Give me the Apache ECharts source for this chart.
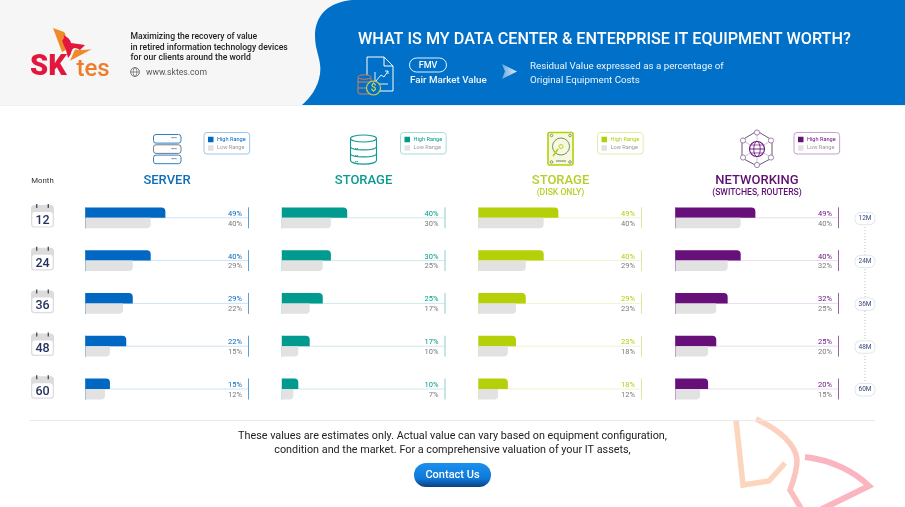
<!DOCTYPE html>
<html><head><meta charset="utf-8">
<style>html,body{margin:0;padding:0;background:#fff}#c{width:905px;height:507px}</style>
<script src="https://cdn.jsdelivr.net/npm/echarts@6/dist/echarts.min.js"></script>
</head><body><div id="c"></div>
<script>
const months = [12, 24, 36, 48, 60];
const serverHigh = [49, 40, 29, 22, 15];
const serverLow = [40, 29, 22, 15, 12];
const serverHighBars = [49, 40, 29, 25, 15];
const serverLowBars = [40, 29, 23, 15, 12];
const storageHigh = [40, 30, 25, 17, 10];
const storageLow = [30, 25, 17, 10, 7];
const diskHigh = [49, 40, 29, 23, 18];
const diskLow = [40, 29, 23, 18, 12];
const netHigh = [49, 40, 32, 25, 20];
const netLow = [40, 32, 25, 20, 15];
const panelNames = ['SERVER', 'STORAGE', 'STORAGE', 'NETWORKING'];
const panelSubs = ['', '', '(DISK ONLY)', '(SWITCHES, ROUTERS)'];

const FONT = 'Roboto';
const panels = [
  {hi: serverHigh, lo: serverLow, hiBar: serverHighBars, loBar: serverLowBars, color: '#0068c3', title: '#0f6fb8', line: '#cfe3f3', edge: '#5f9fd3', left: 85.5, tx: 167, lgx: 204, lgb: '#9cc5e6'},
  {hi: storageHigh, lo: storageLow, hiBar: storageHigh, loBar: storageLow, color: '#009a8e', title: '#0c9a92', line: '#cdeae7', edge: '#8dd0cb', left: 282, tx: 363.5, lgx: 400.5, lgb: '#a5dcd8'},
  {hi: diskHigh, lo: diskLow, hiBar: diskHigh, loBar: diskLow, color: '#b5cf09', title: '#b8cf2a', line: '#eff4cf', edge: '#dfe99a', left: 478.5, tx: 560.5, lgx: 597.5, lgb: '#e2ecaa'},
  {hi: netHigh, lo: netLow, hiBar: netHigh, loBar: netLow, color: '#68107a', title: '#5f0f72', line: '#ecdcef', edge: '#9a63a6', left: 675.5, tx: 757, lgx: 794, lgb: '#c3a2cb'}
];
const gridTop = 196.4, gridH = 214, gridW = 163;

function frameRender(p) {
  return function (params, api) {
    const i = api.value(0);
    const c0 = api.coord([0, i]), c1 = api.coord([100, i]);
    const y = c0[1];
    return {type: 'group', children: [
      {type: 'line', shape: {x1: c0[0], y1: y, x2: c1[0], y2: y}, style: {stroke: p.line, lineWidth: 1}},
      {type: 'line', shape: {x1: c0[0], y1: y - 10.5, x2: c0[0], y2: y + 10.5}, style: {stroke: p.edge, lineWidth: 1}},
      {type: 'line', shape: {x1: c1[0], y1: y - 10.5, x2: c1[0], y2: y + 10.5}, style: {stroke: p.edge, lineWidth: 1}},
      {type: 'text', style: {text: api.value(1) + '%', x: c1[0] - 6.5, y: y - 3.8, fill: p.color, font: '400 7.5px ' + FONT, align: 'right', verticalAlign: 'middle'}},
      {type: 'text', style: {text: api.value(2) + '%', x: c1[0] - 6.5, y: y + 6, fill: '#7a7a7a', font: '400 7.5px ' + FONT, align: 'right', verticalAlign: 'middle'}}
    ]};
  };
}
function calendarRender(params, api) {
  const c = api.coord([0, api.value(0)]);
  const x = c[0] - 54.5, y = c[1] - 12.8;
  return {type: 'group', children: [
    {type: 'rect', shape: {x: x, y: y, width: 23, height: 22.6, r: 3.5}, style: {fill: '#dcdcdc'}},
    {type: 'rect', shape: {x: x + 1.3, y: y + 7, width: 20.4, height: 14.4, r: 2.5}, style: {fill: '#fff'}},
    {type: 'rect', shape: {x: x + 5, y: y - 1, width: 1.4, height: 4}, style: {fill: '#4a5570'}},
    {type: 'rect', shape: {x: x + 16.6, y: y - 1, width: 1.4, height: 4}, style: {fill: '#4a5570'}},
    {type: 'text', style: {text: String(api.value(1)), x: x + 11.5, y: y + 15.6, fill: '#25325f', font: '500 12.5px ' + FONT, align: 'center', verticalAlign: 'middle'}}
  ]};
}
function pillRender(params, api) {
  const c = api.coord([100, api.value(0)]);
  return {type: 'text', style: {
    text: api.value(1) + 'M', x: c[0] + 26.5, y: c[1] + 0.8, fill: '#33477a', font: '400 6.5px ' + FONT,
    align: 'center', verticalAlign: 'middle', backgroundColor: '#fff', borderColor: '#e1e6ef', borderWidth: 1,
    borderRadius: 5, padding: [2.2, 3]
  }};
}

const grid = [], xAxis = [], yAxis = [], series = [], legend = [];
panels.forEach((p, k) => {
  grid.push({left: p.left, top: gridTop, width: gridW, height: gridH});
  xAxis.push({type: 'value', gridIndex: k, min: 0, max: 100, show: false});
  yAxis.push({
    type: 'category', gridIndex: k, data: months, inverse: true,
    axisLine: {show: false}, axisTick: {show: false}, axisLabel: {show: false}
  });
  series.push({
    type: 'custom', name: 'frame' + k, xAxisIndex: k, yAxisIndex: k, z: 1, silent: true, clip: false,
    renderItem: frameRender(p),
    encode: {y: 0, x: 1},
    data: months.map((m, i) => [i, p.hi[i], p.lo[i]])
  });
  series.push({
    type: 'bar', name: 'High Range', xAxisIndex: k, yAxisIndex: k, z: 3, barWidth: 10.4, barGap: '0%',
    itemStyle: {color: p.color, borderRadius: [0, 4, 0, 0]}, data: p.hiBar, silent: true
  });
  series.push({
    type: 'bar', name: 'Low Range', xAxisIndex: k, yAxisIndex: k, z: 3, barWidth: 10.4, barGap: '0%',
    itemStyle: {color: '#e2e2e2', borderRadius: [0, 0, 4, 0]}, data: p.loBar, silent: true
  });
  legend.push({
    left: p.lgx, top: 132.5, orient: 'vertical', padding: [3.5, 4, 2.5, 4], itemGap: 1.5,
    itemWidth: 5.5, itemHeight: 5.5, selectedMode: false, icon: 'rect',
    borderColor: p.lgb, borderWidth: 1, borderRadius: 3,
    textStyle: {fontFamily: FONT, fontSize: 5.6, lineHeight: 7, padding: [0, 0, 0, -1.5]},
    data: [
      {name: 'High Range', itemStyle: {color: p.color}, textStyle: {color: p.color}},
      {name: 'Low Range', itemStyle: {color: '#e2e2e2'}, textStyle: {color: '#9a9a9a'}}
    ]
  });
});
series.push({
  type: 'custom', name: 'calendars', xAxisIndex: 0, yAxisIndex: 0, z: 1, silent: true, clip: false,
  renderItem: calendarRender, encode: {y: 0}, data: months.map((m, i) => [i, m])
});
series.push({
  type: 'custom', name: 'timeline', xAxisIndex: 3, yAxisIndex: 3, z: 6, silent: true, clip: false,
  renderItem: pillRender, encode: {y: 0}, data: months.map((m, i) => [i, m])
});

const title = [{
  text: 'WHAT IS MY DATA CENTER & ENTERPRISE IT EQUIPMENT WORTH?', left: 358, top: 31.5, padding: 0,
  textStyle: {color: '#fff', fontFamily: FONT, fontSize: 16.2, fontWeight: 500}
}];
panels.forEach((p, k) => {
  title.push({
    text: panelNames[k], subtext: panelSubs[k], left: p.tx, top: 173, padding: 0, itemGap: 0, textAlign: 'center',
    textStyle: {color: p.title, fontFamily: FONT, fontSize: 13, fontWeight: 500, lineHeight: 15},
    subtextStyle: {color: p.title, fontFamily: FONT, fontSize: 8.6, fontWeight: 500, lineHeight: 9}
  });
});

const txt = (s, x, y, font, fill, align) => ({type: 'text', z: 5, style: {text: s, x: x, y: y + 1, font: font + ' ' + FONT, fill: fill, align: align || 'left', verticalAlign: 'middle'}});
const ln = (x1, y1, x2, y2, c, w, extra) => ({type: 'line', z: 5, shape: {x1, y1, x2, y2}, style: Object.assign({stroke: c, lineWidth: w || 1}, extra || {})});
const rr = (x, y, w, h, r, st) => ({type: 'rect', z: 5, shape: {x, y, width: w, height: h, r}, style: st});
const circ = (cx, cy, r, st) => ({type: 'circle', z: 5, shape: {cx, cy, r}, style: st});
let pathCount = 0;
const path = (d, st, z) => {
  const name = 'skPath' + (pathCount++);
  echarts.graphic.registerShape(name, echarts.graphic.extendPath(d));
  return {type: name, z: z || 4, style: st};
};
const S = (c, w) => ({stroke: c, lineWidth: w || 1, fill: 'none'});
const SF = (c, w, f) => ({stroke: c, lineWidth: w || 1, fill: f || '#fff'});

const g = [
  {type: 'rect', z: 1, shape: {x: 0, y: 0, width: 905, height: 105}, style: {fill: '#f6f6f6'}},
  path('M352,0 C330,2 315,14 315,36 C315,52 322,60 320,74 C318,88 310,98 302,105 L905,105 L905,0 Z', {fill: '#0070c8'}, 2),
  // logo
  path('M53,28 L64,32 Q68,36 62,40 Q66,46 66,50 L62,52 Z', {fill: '#f08a28'}),
  path('M70,60.7 L75,49.5 Q80,50 83,50 L91.7,49.3 Z', {fill: '#f08a28'}),
  path('M63.5,35 Q70,38 71,43 L85,45 L80,50 Q74,46 72,50 Q71,55 68,58 L66,50 Q63,44 62,40 Q65,38 63.5,35 Z', {fill: '#e3173e'}),
  txt('SK', 30, 66.5, '900 29px', '#e3173e'),
  txt('tes', 76.5, 68.5, '500 24px', '#ee7d2b'),
  txt('Maximizing the recovery of value', 130.5, 36, '500 8.6px', '#222'),
  txt('in retired information technology devices', 130.5, 46.5, '500 8.6px', '#222'),
  txt('for our clients around the world', 130.5, 57, '500 8.6px', '#222'),
  txt('www.sktes.com', 146, 71.5, '400 8.6px', '#555'),
  circ(135, 72, 4.4, S('#666', 0.9)),
  {type: 'ellipse', z: 5, shape: {cx: 135, cy: 72, rx: 1.8, ry: 4.4}, style: S('#666', 0.7)},
  ln(130.6, 72, 139.4, 72, '#666', 0.7),
  // header icon
  path('M367,57 L384,57 L393,66 L393,91 L367,91 Z M384,57 L384,66 L393,66', S('#fff', 1), 5),
  path('M375,72 L375,84 L388,84 M376,81 L381,75 L384,77 L388,71 M385,71 L388,71 L388,74', S('#fff', 0.9), 5),
  {type: 'ellipse', z: 6, shape: {cx: 364.5, cy: 77, rx: 6.5, ry: 2.2}, style: SF('#d98050', 1, '#0070c8')},
  rr(358, 77, 13, 17, 2, SF('#d98050', 1, '#0070c8')),
  ln(358, 82, 371, 82, '#d98050'), ln(358, 88, 371, 88, '#d98050'),
  circ(373.5, 88, 7, SF('#d6cf4c', 1.2, '#0070c8')),
  txt('$', 373.5, 87.5, '500 10px', '#d6cf4c', 'center'),
  rr(409.5, 58, 37, 14, 7, S('#fff', 0.9)),
  txt('FMV', 428, 64.5, '500 9px', '#fff', 'center'),
  txt('Fair Market Value', 410, 79.5, '500 9.8px', '#f0f6fb'),
  {type: 'polygon', z: 5, shape: {points: [[502, 64], [517, 71.5], [502, 79], [505, 71.5]]}, style: {fill: new echarts.graphic.LinearGradient(0, 0, 1, 0, [{offset: 0, color: '#6fa9dd'}, {offset: 1, color: '#dcecf8'}])}},
  txt('Residual Value expressed as a percentage of', 530, 65.5, '400 9.75px', '#eef5fb'),
  txt('Original Equipment Costs', 530, 79.5, '400 9.75px', '#eef5fb'),
  ln(0, 105.5, 905, 105.5, '#e9f3fb', 1),
  txt('Month', 42.5, 180.5, '400 7.8px', '#333', 'center'),
  // server icon
  ...[0, 10.3, 20.6].map((d, i) => rr(153.5, 134.5 + d, 27.5, 8.6, 2.5, SF(i === 1 ? '#6c7a89' : '#2f7fc0', 1))),
  ...[0, 10.3, 20.6].map(d => txt('•••', 174, 138 + d, '700 5px', '#4d6f91', 'center')),
  // storage icon
  {type: 'ellipse', z: 6, shape: {cx: 363.5, cy: 138.5, rx: 13, ry: 3.5}, style: SF('#119a92', 1.1)},
  path('M350.5,138.5 L350.5,160 C350.5,165.5 376.5,165.5 376.5,160 L376.5,138.5 M350.5,146.5 C350.5,151 376.5,151 376.5,146.5 M350.5,153.5 C350.5,158 376.5,158 376.5,153.5', S('#119a92', 1.1), 5),
  ...[147, 154, 160].map(y => txt('••', 355, y + 2, '700 4.5px', '#119a92', 'left')),
  // disk icon
  rr(548, 132.5, 25, 32.5, 1.5, {stroke: '#b5cf09', lineWidth: 1.6, fill: '#f6f8e2'}),
  circ(561, 146.5, 8.5, S('#5f8a45', 0.9)),
  circ(561, 146.5, 2, S('#b5cf09', 0.9)),
  path('M553,156 L558,149', S('#b5cf09', 1.6), 5),
  ln(556, 161, 566, 161, '#5f7a45', 0.9),
  ...[[551.5, 135.5], [570, 135.5], [551.5, 162], [570, 162]].map(a => circ(a[0], a[1], 1.3, S('#5f7a45', 0.7))),
  // network icon
  path('M757,131 L772,140 L772,158 L757,166 L742,158 L742,140 Z', S('#5e3f68', 0.9), 5),
  ln(757, 131, 757, 166, '#c9b2d0', 0.8), ln(742, 140, 772, 158, '#c9b2d0', 0.8), ln(772, 140, 742, 158, '#c9b2d0', 0.8),
  circ(757, 149, 7.5, SF('#68107a', 1.1)),
  {type: 'ellipse', z: 5, shape: {cx: 757, cy: 149, rx: 3.2, ry: 7.5}, style: S('#68107a', 0.9)},
  ln(749.5, 149, 764.5, 149, '#68107a', 0.9), ln(751, 145, 763, 145, '#68107a', 0.7), ln(751, 153, 763, 153, '#68107a', 0.7),
  ...[[757, 132.5], [771, 140.5], [771, 157.5], [757, 165], [743, 157.5], [743, 140.5]].map(a => circ(a[0], a[1], 2.6, SF('#9d83a8', 1))),
  // timeline
  ln(865, 224, 865, 383, '#bdbdbd', 1, {lineDash: [1, 2]}),
  // footer
  ln(30, 420.5, 875, 420.5, '#e9e9e9', 1),
  path('M736,420 L743,485 L769,481 L785,463', {stroke: '#fcd5bf', lineWidth: 5.5, fill: 'none', lineJoin: 'miter'}, 2),
  path('M756,419 C780,430 796,445 797,460 C797,470 793,482 790,490 L802,510', {stroke: new echarts.graphic.LinearGradient(0, 0, 0, 1, [{offset: 0, color: '#fcd5bf'}, {offset: 1, color: '#fbb8c0'}]), lineWidth: 5.5, fill: 'none', lineJoin: 'miter'}, 2),
  path('M805,457 C832,460 855,472 869,486 L820,510', {stroke: '#fbb5c1', lineWidth: 6, fill: 'none', lineJoin: 'miter'}, 2),
  txt('These values are estimates only. Actual value can vary based on equipment configuration,', 452.5, 435.5, '400 10.8px', '#222', 'center'),
  txt('condition and the market. For a comprehensive valuation of your IT assets,', 452.5, 449, '400 10.8px', '#222', 'center'),
  {type: 'rect', z: 5, shape: {x: 414, y: 463, width: 77, height: 24, r: 12}, style: {fill: new echarts.graphic.LinearGradient(0, 0, 0, 1, [{offset: 0, color: '#1c90ee'}, {offset: 0.65, color: '#0f78d8'}, {offset: 1, color: '#0b3f80'}])}},
  txt('Contact Us', 452.5, 474, '500 11px', '#fff', 'center')
];

const chart = echarts.init(document.getElementById('c'));
chart.setOption({
  animation: false, backgroundColor: '#fff',
  title, grid, xAxis, yAxis, legend, series,
  graphic: {elements: g}
});
</script></body></html>
